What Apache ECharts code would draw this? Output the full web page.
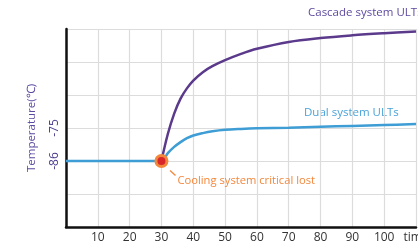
<!DOCTYPE html>
<html>
<head>
<meta charset="utf-8">
<script src="https://cdn.jsdelivr.net/npm/echarts@6/dist/echarts.min.js"></script>
<style>
  html, body { margin: 0; padding: 0; background: #fff; }
  #chart { width: 418px; height: 251px; }
</style>
</head>
<body>
<div id="chart"></div>
<script>
// x ticks (time) and the labels shown under them
var xTicks = [0, 10, 20, 30, 40, 50, 60, 70, 80, 90, 100, 110]
var xTickLabels = ['', '10', '20', '30', '40', '50', '60', '70', '80', '90', '100', 'time']
// y labels that are shown (temperature, ℃)
var yLabelValues = [-86, -75]

// Dual system ULTs
var dualTime = [0, 10, 20, 30, 32, 34, 36, 38, 40, 43, 46, 50, 55, 60, 70, 80, 90, 100, 110]
var dualTemp = [-86, -86, -86, -86, -83.4, -81.3, -79.7, -78.4, -77.5, -76.7, -76.1, -75.6, -75.3, -75.1, -74.9, -74.6, -74.3, -74.0, -73.7]

// Cascade system ULTs
var cascadeTime = [30, 32, 34, 36, 38, 40, 43, 46, 50, 55, 60, 70, 80, 90, 100, 110]
var cascadeTemp = [-86, -77, -70.2, -65.2, -61.8, -59.2, -56.4, -54.4, -52.4, -50.3, -48.6, -46.3, -45.0, -44.1, -43.4, -42.8]

// point where cooling is lost
var lostPoint = [30, -86]

var purple = '#5b3a8c'
var blue = '#3d9dd4'
var orange = '#f3873b'

function zip(a, b) {
  return a.map(function (v, i) { return [v, b[i]] })
}

var chart = echarts.init(document.getElementById('chart'))
chart.setOption({
  animation: false,
  textStyle: { fontFamily: 'Open Sans' },
  grid: { left: 66, right: 2, top: 29, bottom: 24, outerBoundsMode: 'none', containLabel: false },
  xAxis: {
    type: 'value',
    min: 0,
    max: 110,
    interval: 10,
    axisLine: { lineStyle: { color: '#111', width: 2.5 } },
    axisTick: { show: false },
    splitLine: { lineStyle: { color: '#dcdcdc', width: 1.2 } },
    axisLabel: {
      color: '#333',
      fontSize: 12,
      margin: 5,
      showMinLabel: true,
      showMaxLabel: true,
      formatter: function (v) {
        var i = xTicks.indexOf(v)
        return i >= 0 ? xTickLabels[i] : ''
      }
    }
  },
  yAxis: {
    type: 'value',
    min: -108,
    max: -42,
    interval: 11,
    name: 'Temperature(℃)',
    nameLocation: 'middle',
    nameGap: 28,
    nameTextStyle: { color: '#5e4aa0', fontSize: 11.5 },
    axisLine: { show: true, lineStyle: { color: '#111', width: 2.5 } },
    axisTick: { show: false },
    splitLine: { lineStyle: { color: '#dcdcdc', width: 1.2 } },
    axisLabel: {
      color: '#4a3a8c',
      fontSize: 12,
      rotate: 90,
      margin: 5,
      formatter: function (v) {
        return yLabelValues.indexOf(v) >= 0 ? String(v) : ''
      }
    }
  },
  series: [
    {
      name: 'Dual system ULTs',
      type: 'line',
      smooth: 0.35,
      showSymbol: false,
      lineStyle: { color: blue, width: 2.5 },
      data: zip(dualTime, dualTemp)
    },
    {
      name: 'Cascade system ULTs',
      type: 'line',
      smooth: 0.35,
      showSymbol: false,
      lineStyle: { color: purple, width: 2.5 },
      data: zip(cascadeTime, cascadeTemp)
    },
    {
      name: 'Cooling system critical lost',
      type: 'scatter',
      symbolSize: 11,
      itemStyle: { color: '#d8262b', borderColor: orange, borderWidth: 3, opacity: 1 },
      z: 5,
      label: {
        show: true,
        position: [23, 27],
        align: 'left',
        verticalAlign: 'middle',
        color: orange,
        fontSize: 11.2,
        formatter: 'Cooling system critical lost'
      },
      data: [lostPoint]
    }
  ],
  graphic: [
    // leader line of the annotation
    {
      type: 'line',
      shape: { x1: 170, y1: 170.5, x2: 175.5, y2: 175.5 },
      style: { stroke: orange, lineWidth: 1.3 }
    },
    {
      type: 'text',
      left: 308,
      top: 7,
      style: { text: 'Cascade system ULTs', fill: '#5e4aa0', fontSize: 11.5, fontFamily: 'Open Sans' }
    },
    {
      type: 'text',
      left: 304,
      top: 107,
      style: { text: 'Dual system ULTs', fill: '#4aa3d8', fontSize: 11.5, fontFamily: 'Open Sans' }
    }
  ]
})
</script>
</body>
</html>
